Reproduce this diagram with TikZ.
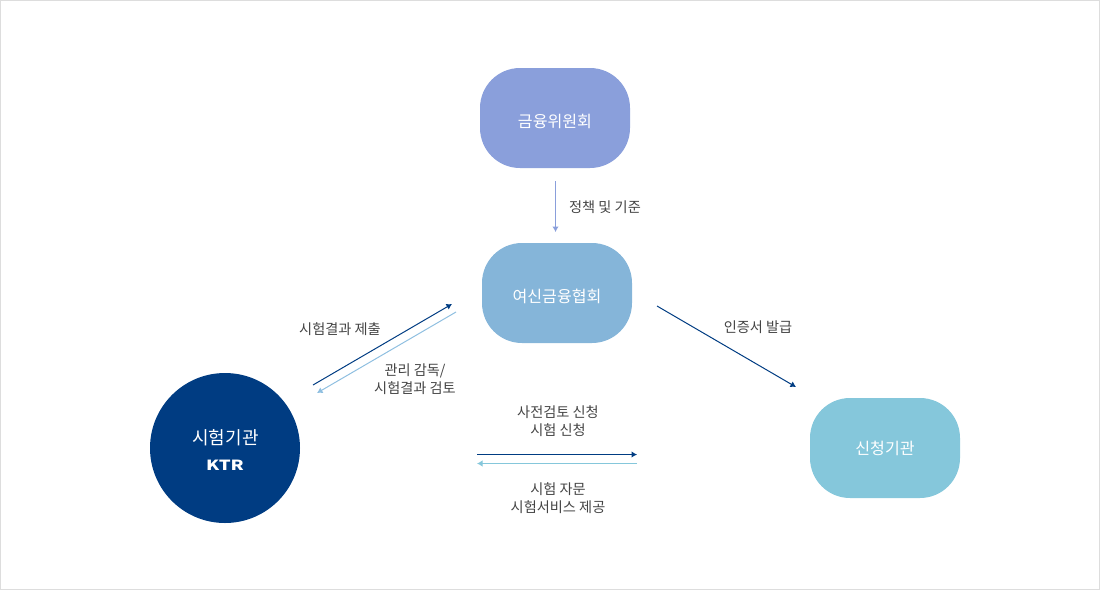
\documentclass[tikz,border=0pt]{standalone}
\usepackage{fontspec}
\setmainfont{Noto Sans CJK KR}
\usetikzlibrary{arrows.meta}
\definecolor{wiwon}{HTML}{8A9FDB}
\definecolor{hyeop}{HTML}{85B5D9}
\definecolor{sincheong}{HTML}{85C7DB}
\definecolor{ktrblue}{HTML}{003C82}
\definecolor{lightarrow}{HTML}{8FBFE0}
\definecolor{labelgray}{HTML}{444444}
\definecolor{rim}{HTML}{DDDDDD}
\tikzset{
  blob/.style={minimum width=150pt, minimum height=100pt, rounded corners=40pt, text=white, font=\fontsize{16.1}{20}\selectfont, inner sep=0pt, text height=18pt, text depth=0pt},
  lbl/.style={text=labelgray, font=\fontsize{14.2}{18}\selectfont, align=center, inner sep=0pt},
  conn/.style={line width=1pt, -{Latex[length=5.5pt,width=6.5pt]}},
}
\begin{document}
\begin{tikzpicture}[x=1pt,y=-1pt]
    \useasboundingbox (0,0) rectangle (1100,590);
    \draw[rim, line width=1pt] (0.5,0.5) rectangle (1099.5,589.5);

    % boxes
    \node[blob, fill=wiwon] (fsc) at (555,118) {금융위원회};
    \node[blob, fill=hyeop] (crefia) at (557,293) {여신금융협회};
    \node[blob, fill=sincheong, text height=12pt] (applicant) at (885,448) {신청기관};
    \node[circle, fill=ktrblue, minimum size=150pt, inner sep=0pt] (lab) at (225,448) {};
    \node[text=white, font=\fontsize{18}{22}\selectfont, inner sep=0pt] (labname) at (225.5,437.5) {시험기관};
    \node[text=white, font=\fontsize{14}{16}\selectfont\bfseries, inner sep=0pt] (ktr) at (225,465) {\scalebox{1.33}[1]{KTR}};

    % free ends
    \coordinate (policyA) at (555.5,181);
    \coordinate (policyB) at (555.5,232);
    \coordinate (reportA) at (313,385);
    \coordinate (reportB) at (452,304);
    \coordinate (superA) at (456,312);
    \coordinate (superB) at (317,393);
    \coordinate (certA) at (657,306);
    \coordinate (certB) at (796,387);
    \coordinate (applyA) at (477,454.5);
    \coordinate (applyB) at (637,454.5);
    \coordinate (adviceA) at (637,463.5);
    \coordinate (adviceB) at (477,463.5);

    % arrows
    \draw[conn, wiwon] (policyA) -- (policyB);
    \draw[conn, ktrblue] (reportA) -- (reportB);
    \draw[conn, lightarrow] (superA) -- (superB);
    \draw[conn, ktrblue] (certA) -- (certB);
    \draw[conn, ktrblue] (applyA) -- (applyB);
    \draw[conn, sincheong] (adviceA) -- (adviceB);

    % labels
    \node[lbl] (policy) at (605,207) {정책 및 기준};
    \node[lbl] (report) at (340,329) {시험결과 제출};
    \node[lbl] (super) at (415,379) {관리 감독/\\시험결과 검토};
    \node[lbl] (cert) at (758,327) {인증서 발급};
    \node[lbl] (apply) at (558,421) {사전검토 신청\\시험 신청};
    \node[lbl] (advice) at (558,498) {시험 자문\\시험서비스 제공};
\end{tikzpicture}
\end{document}
